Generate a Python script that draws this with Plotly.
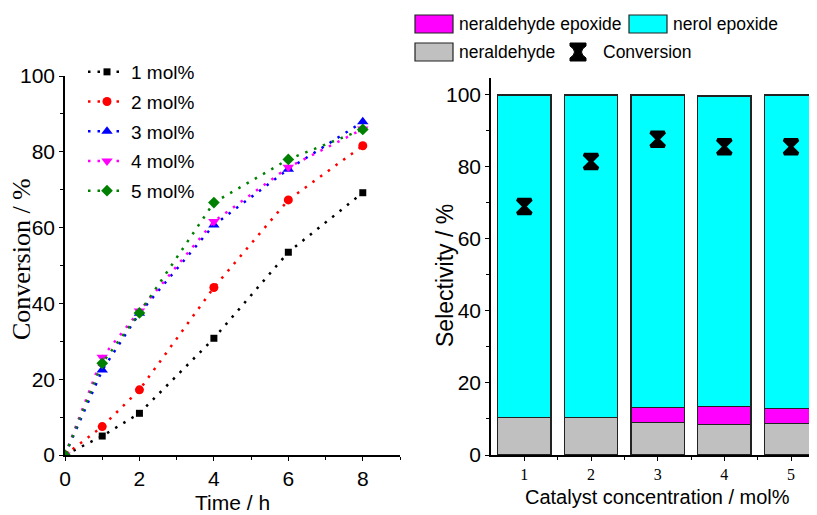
import plotly.graph_objects as go

# ---------------- data ----------------
time_h = [0, 1, 2, 4, 6, 8]
conv_1 = [0, 5.0, 11.0, 30.8, 53.5, 69.2]
conv_2 = [0, 7.5, 17.2, 44.2, 67.3, 81.6]
conv_3 = [0, 22.4, 37.4, 60.7, 75.4, 87.9]
conv_4 = [0, 25.8, 38.0, 61.6, 75.9, 86.0]
conv_5 = [0, 24.2, 37.5, 66.6, 78.0, 85.9]
series_names = ["1 mol%", "2 mol%", "3 mol%", "4 mol%", "5 mol%"]

catalyst = [1, 2, 3, 4, 5]
neraldehyde = [10.5, 10.4, 9.1, 8.4, 8.8]
neraldehyde_epoxide = [0.0, 0.0, 4.1, 5.0, 4.1]
nerol_epoxide = [89.5, 89.6, 86.8, 86.3, 87.1]
conversion_8h = [69.0, 81.5, 87.7, 85.6, 85.6]

# ---------------- styles ----------------
SANS = "Liberation Sans, Arial, sans-serif"
SERIF = "Liberation Serif, Times New Roman, serif"
W, H = 817, 515
OFF = 8  # page body margin offset

line_colors = ["#000000", "#FF0000", "#0000FF", "#FF00FF", "#008000"]
symbols = ["square", "circle", "triangle-up", "triangle-down", "diamond"]
msizes = [7, 9, 10, 10, 9]

fig = go.Figure()

for name, ys, c, s, ms in zip(series_names, [conv_1, conv_2, conv_3, conv_4, conv_5],
                              line_colors, symbols, msizes):
    fig.add_trace(go.Scatter(
        x=time_h, y=ys, name=name, mode="lines+markers",
        line=dict(color=c, width=2.5, dash="2.5px,7px"),
        marker=dict(symbol=s, size=ms, color=c),
        xaxis="x", yaxis="y", legend="legend", legendgroup=name,
    ))

bar_kw = dict(xaxis="x2", yaxis="y2", width=0.8, showlegend=False)
fig.add_trace(go.Bar(x=catalyst, y=neraldehyde, name="neraldehyde",
                     marker=dict(color="#C0C0C0", line=dict(color="#222", width=1.2)), **bar_kw))
fig.add_trace(go.Bar(x=catalyst, y=neraldehyde_epoxide, name="neraldehyde epoxide",
                     marker=dict(color="#FF00FF", line=dict(color="#222", width=1.2)), **bar_kw))
fig.add_trace(go.Bar(x=catalyst, y=nerol_epoxide, name="nerol epoxide",
                     marker=dict(color="#00FFFF", line=dict(color="#222", width=1.2)), **bar_kw))
fig.add_trace(go.Scatter(x=catalyst, y=conversion_8h, name="Conversion", mode="markers",
                         marker=dict(symbol="hourglass", size=14, color="black",
                                     line=dict(color="black", width=3.5)),
                         xaxis="x2", yaxis="y2", showlegend=False))


def px(x):
    return (x - OFF) / W


def py(y):
    return 1 - (y - OFF) / H


shapes = []
annotations = []
# custom legend for the right panel
for (x0, y0, x1, y1, col) in [(415, 15, 453, 33, "#FF00FF"),
                              (629, 15, 667, 33, "#00FFFF"),
                              (415, 43, 453, 61, "#C0C0C0")]:
    shapes.append(dict(type="rect", xref="paper", yref="paper",
                       x0=px(x0), x1=px(x1), y0=py(y1), y1=py(y0),
                       fillcolor=col, line=dict(color="#222", width=1.2)))
# hourglass glyph
hx, hy = 578, 52
pts = f"M{px(hx-8)},{py(hy-9)} L{px(hx+8)},{py(hy-9)} L{px(hx+8)},{py(hy-6)} " \
      f"Q{px(hx-1)},{py(hy)} {px(hx+8)},{py(hy+6)} L{px(hx+8)},{py(hy+9)} " \
      f"L{px(hx-8)},{py(hy+9)} L{px(hx-8)},{py(hy+6)} Q{px(hx+1)},{py(hy)} {px(hx-8)},{py(hy-6)} Z"
shapes.append(dict(type="path", xref="paper", yref="paper", path=pts,
                   fillcolor="black", line=dict(color="black", width=1)))
for (x, y, t) in [(457, 24, "neraldehyde epoxide"), (671, 24, "nerol epoxide"),
                  (457, 52, "neraldehyde"), (601, 52, "Conversion")]:
    annotations.append(dict(x=px(x), y=py(y), xref="paper", yref="paper", text=t,
                            showarrow=False, xanchor="left", yanchor="middle",
                            font=dict(family=SANS, size=17.5, color="black")))

# axis titles
annotations += [
    dict(x=px(233), y=py(502), xref="paper", yref="paper", text="Time / h", showarrow=False,
         xanchor="center", yanchor="middle", font=dict(family=SANS, size=21, color="black")),
    dict(x=px(21), y=py(259), xref="paper", yref="paper", text="Conversion / %", showarrow=False,
         textangle=-90, xanchor="center", yanchor="middle",
         font=dict(family=SERIF, size=26, color="black")),
    dict(x=px(657), y=py(497), xref="paper", yref="paper", text="Catalyst concentration / mol%",
         showarrow=False, xanchor="center", yanchor="middle",
         font=dict(family=SANS, size=20, color="black")),
    dict(x=px(445), y=py(275), xref="paper", yref="paper", text="Selectivity / %", showarrow=False,
         textangle=-90, xanchor="center", yanchor="middle",
         font=dict(family=SANS, size=23, color="black")),
]

axis_common = dict(showgrid=False, zeroline=False, showline=True, linecolor="black",
                   linewidth=1.5, ticks="outside", ticklen=4, tickwidth=1.2,
                   tickcolor="black", mirror=False, automargin=False)

fig.update_layout(
    width=W, height=H,
    margin=dict(l=0, r=0, t=0, b=0),
    paper_bgcolor="white", plot_bgcolor="white",
    barmode="stack",
    xaxis=dict(domain=[px(65), px(400)], range=[0, 9], dtick=2, tick0=0,
               minor=dict(dtick=1, ticks="outside", ticklen=3, tickcolor="black"),
               tickfont=dict(family=SANS, size=21, color="black"),
               anchor="y", **axis_common),
    yaxis=dict(domain=[py(455), py(76)], range=[0, 100], dtick=20,
               minor=dict(dtick=10, ticks="outside", ticklen=3, tickcolor="black"),
               tickfont=dict(family=SANS, size=21, color="black"),
               anchor="x", **axis_common),
    xaxis2=dict(domain=[px(491), px(817)], range=[0.5, 5.39], tickvals=catalyst,
                minor=dict(tickvals=[1.5, 2.5, 3.5, 4.5], ticks="outside", ticklen=3, tickcolor="black"),
                tickfont=dict(family=SERIF, size=16, color="black"),
                anchor="y2", **axis_common),
    yaxis2=dict(domain=[py(455), py(78)], range=[0, 104.7], dtick=20,
                minor=dict(dtick=10, ticks="outside", ticklen=3, tickcolor="black"),
                tickfont=dict(family=SANS, size=21, color="black"),
                anchor="x2", **axis_common),
    legend=dict(x=px(83), y=py(53), xanchor="left", yanchor="top",
                bgcolor="rgba(0,0,0,0)", font=dict(family=SANS, size=19, color="black"),
                itemwidth=38, traceorder="grouped", tracegroupgap=2),
    shapes=shapes,
    annotations=annotations,
)

fig.write_html("out.html")
